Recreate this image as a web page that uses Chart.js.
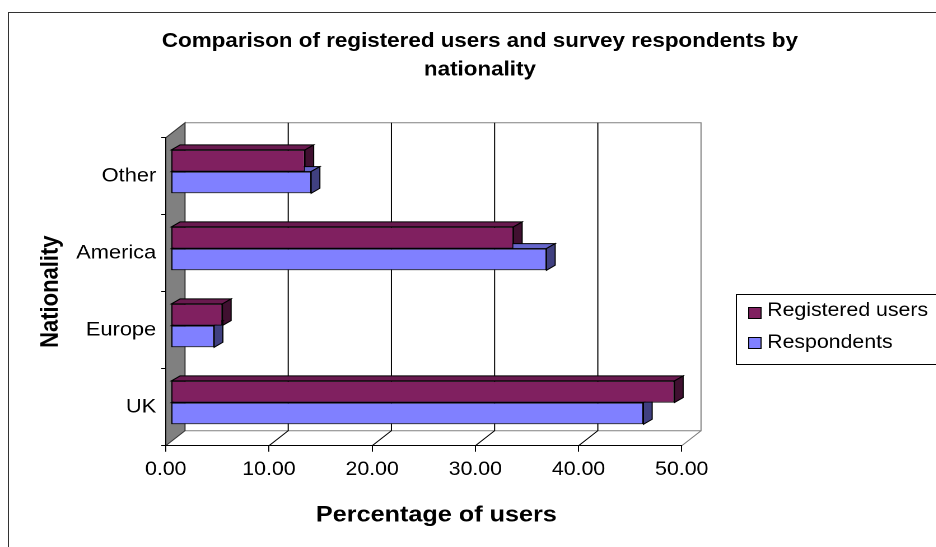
<!DOCTYPE html>
<html>
<head>
<meta charset="utf-8">
<script src="https://cdn.jsdelivr.net/npm/chart.js@4/dist/chart.umd.min.js"></script>
<style>
  html, body { margin: 0; padding: 0; background: #fff; overflow: hidden; width: 936px; height: 547px; }
  /* the chart is laid out slightly narrower and widened to fill the page */
  #wrap { width: 857px; height: 556px; transform: scaleX(1.12); transform-origin: 0 0; }
  canvas { display: block; }
</style>
</head>
<body>
<div id="wrap"><canvas id="chart" width="857" height="556"></canvas></div>
<script>
// ---- data ----
const categories = ['Other', 'America', 'Europe', 'UK'];
const registeredUsers = [13.0, 33.2, 5.0, 48.8];
const respondents = [13.6, 36.4, 4.2, 45.8];
const seriesNames = ['Registered users', 'Respondents'];
const valueTicks = [0, 10, 20, 30, 40, 50];
const chartTitle = ['Comparison of registered users and survey respondents by', 'nationality'];
const xAxisTitle = 'Percentage of users';
const yAxisTitle = 'Nationality';

// ---- styling ----
const FONT = "'Liberation Sans', Arial, Helvetica, sans-serif";
const PURPLE = [128, 32, 96];
const LILAC = [128, 128, 255];
const DEPTH = { x: 17.2, y: -15 };      // depth of the floor and side wall
const BAR_PLANE = { x: 4.5, y: -4.6 };  // bars stand a little behind the front edge
const BAR_DEPTH = { x: 7.8, y: -5 };    // thickness of each bar

const rgb = (c, f = 1) => `rgb(${c.map(v => Math.round(v * f)).join(',')})`;

Chart.defaults.font.family = FONT;
Chart.defaults.color = '#000';

function poly(ctx, pts) {
  ctx.beginPath();
  ctx.moveTo(pts[0][0], pts[0][1]);
  for (let i = 1; i < pts.length; i++) ctx.lineTo(pts[i][0], pts[i][1]);
  ctx.closePath();
}

// walls, floor, gridlines and the top/right faces of the bars
const box3d = {
  id: 'box3d',
  beforeDraw(chart) {
    const { ctx, chartArea: a, scales: { x } } = chart;
    const dx = DEPTH.x, dy = DEPTH.y;
    ctx.save();
    ctx.lineWidth = 1;

    // outer frame
    ctx.strokeStyle = '#333';
    ctx.strokeRect(7.5, 12.5, chart.width - 15, chart.height - 20);

    // back plane outline, floor back edge and right floor edge
    ctx.strokeStyle = '#808080';
    ctx.beginPath();
    ctx.moveTo(a.left + dx, a.top + dy);
    ctx.lineTo(a.right + dx, a.top + dy);
    ctx.lineTo(a.right + dx, a.bottom + dy);
    ctx.lineTo(a.left + dx, a.bottom + dy);
    ctx.moveTo(a.right, a.bottom);
    ctx.lineTo(a.right + dx, a.bottom + dy);
    ctx.stroke();

    // gridlines on the back plane and their floor lines
    ctx.strokeStyle = '#000';
    ctx.beginPath();
    valueTicks.slice(1, -1).forEach(v => {
      const px = x.getPixelForValue(v);
      ctx.moveTo(px + dx, a.top + dy);
      ctx.lineTo(px + dx, a.bottom + dy);
      ctx.lineTo(px, a.bottom);
    });
    ctx.stroke();

    // side wall
    poly(ctx, [[a.left, a.top], [a.left + dx, a.top + dy], [a.left + dx, a.bottom + dy], [a.left, a.bottom]]);
    ctx.fillStyle = '#808080';
    ctx.fill();
    ctx.strokeStyle = '#333';
    ctx.stroke();

    // top and right faces of every bar
    const bx = BAR_DEPTH.x, by = BAR_DEPTH.y;
    ctx.lineJoin = 'miter';
    chart.data.datasets.forEach((ds, i) => {
      chart.getDatasetMeta(i).data.forEach(bar => {
        const p = bar.getProps(['x', 'y', 'base', 'height'], true);
        const x0 = p.base + BAR_PLANE.x, x1 = p.x + BAR_PLANE.x;
        const y0 = p.y - p.height / 2 + BAR_PLANE.y, y1 = p.y + p.height / 2 + BAR_PLANE.y;
        ctx.strokeStyle = '#000';
        poly(ctx, [[x0, y0], [x1, y0], [x1 + bx, y0 + by], [x0 + bx, y0 + by]]);
        ctx.fillStyle = ds.topColor;
        ctx.fill();
        ctx.stroke();
        poly(ctx, [[x1, y0], [x1 + bx, y0 + by], [x1 + bx, y1 + by], [x1, y1]]);
        ctx.fillStyle = ds.sideColor;
        ctx.fill();
        ctx.stroke();
      });
    });
    ctx.restore();
  },
  beforeDatasetsDraw(chart) {
    chart.ctx.save();
    chart.ctx.translate(BAR_PLANE.x, BAR_PLANE.y);
  },
  afterDatasetsDraw(chart) {
    chart.ctx.restore();
  },
  // boxed legend to the right of the plot
  afterDraw(chart) {
    const ctx = chart.ctx;
    ctx.save();
    ctx.lineWidth = 1;
    ctx.strokeStyle = '#000';
    ctx.strokeRect(657.5, 294.5, 190, 70);
    ctx.font = `19px ${FONT}`;
    ctx.textBaseline = 'middle';
    ctx.textAlign = 'left';
    const rows = [{ box: 307.5, text: 311 }, { box: 337.5, text: 343 }];
    chart.data.datasets.forEach((ds, i) => {
      ctx.fillStyle = ds.backgroundColor;
      ctx.fillRect(668.5, rows[i].box, 11, 11);
      ctx.strokeRect(668.5, rows[i].box, 11, 11);
      ctx.fillStyle = '#000';
      ctx.fillText(ds.label, 685, rows[i].text);
    });
    ctx.restore();
  }
};

new Chart(document.getElementById('chart'), {
  type: 'bar',
  data: {
    labels: categories,
    datasets: [
      {
        label: seriesNames[0], data: registeredUsers,
        backgroundColor: rgb(PURPLE), topColor: rgb(PURPLE, 0.82), sideColor: rgb(PURPLE, 0.5),
        borderColor: '#000', borderWidth: 1, borderSkipped: false
      },
      {
        label: seriesNames[1], data: respondents,
        backgroundColor: rgb(LILAC), topColor: rgb(LILAC, 0.8), sideColor: rgb(LILAC, 0.5),
        borderColor: '#000', borderWidth: 1, borderSkipped: false
      }
    ]
  },
  options: {
    responsive: false,
    animation: false,
    devicePixelRatio: 2,
    indexAxis: 'y',
    clip: false,
    categoryPercentage: 0.563,
    barPercentage: 1,
    layout: { padding: { left: 8, right: 8, top: 12, bottom: 8 } },
    plugins: {
      legend: { display: false },
      tooltip: { enabled: false },
      title: {
        display: true,
        text: chartTitle,
        color: '#000',
        font: { size: 20, weight: 'bold', lineHeight: 1.42 },
        padding: { top: 15.2, bottom: 53.7 }
      }
    },
    scales: {
      x: {
        type: 'linear', position: 'bottom', min: 0, max: 50,
        afterBuildTicks: s => { s.ticks = valueTicks.map(v => ({ value: v })); },
        afterFit: s => { s.height = 102.3; },
        ticks: { callback: v => Number(v).toFixed(2), font: { size: 19 }, padding: 6.6, maxRotation: 0, color: '#000' },
        grid: { drawOnChartArea: false, drawTicks: true, tickLength: 6, color: '#000' },
        border: { display: true, color: '#000', width: 1 },
        title: {
          display: true, text: '\u2003' + xAxisTitle, color: '#000',
          font: { size: 22.5, weight: 'bold' }, padding: { top: 0, bottom: 19 }
        }
      },
      y: {
        type: 'category', position: 'left',
        afterFit: s => { s.width = 140; },
        ticks: { font: { size: 19.5 }, padding: 4.5, color: '#000' },
        grid: { drawOnChartArea: false, drawTicks: true, tickLength: 4, color: '#000', offset: true },
        border: { display: true, color: '#000', width: 1 },
        title: {
          display: true, text: yAxisTitle, color: '#000',
          font: { size: 22, weight: 'bold' }, padding: { top: 24.3, bottom: 0 }
        }
      },
      legendSpace: {
        type: 'linear', position: 'right', display: true,
        afterFit: s => { s.width = 240.3; },
        grid: { display: false }, border: { display: false }, ticks: { display: false }
      }
    }
  },
  plugins: [box3d]
});
</script>
</body>
</html>
